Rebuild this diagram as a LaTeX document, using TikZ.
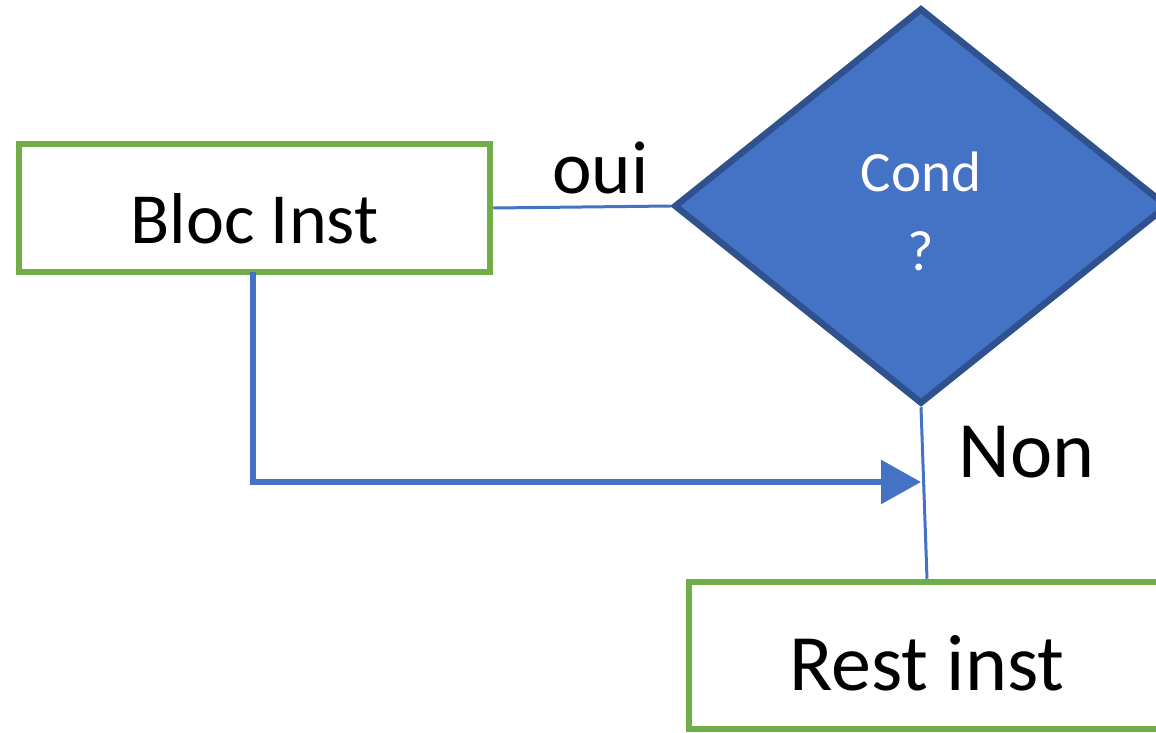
\documentclass[tikz,border=0pt]{standalone}
\usepackage{fontspec}
\setmainfont{Carlito}
\usetikzlibrary{shapes.geometric,arrows.meta}
\definecolor{boxgreen}{HTML}{70AD47}
\definecolor{condfill}{HTML}{4472C4}
\definecolor{conddraw}{HTML}{2F528F}
\definecolor{linkblue}{HTML}{4472C4}
\tikzset{
  instbox/.style={draw=boxgreen, line width=6.5pt, fill=white, rectangle, inner sep=0pt},
  condshape/.style={diamond, draw=conddraw, fill=condfill, line width=6.5pt, inner sep=0pt,
    minimum width=494pt, minimum height=396pt},
  thinlink/.style={draw=linkblue, line width=3pt},
  thicklink/.style={draw=linkblue, line width=6pt},
  lbl/.style={anchor=base, inner sep=0pt, text=black}
}
\begin{document}
\begin{tikzpicture}[x=1pt,y=-1pt]
\useasboundingbox (0,0) rectangle (1156,733);
\clip (0,0) rectangle (1156,733);
% nodes
\node[instbox, minimum width=471pt, minimum height=128pt, text height=70pt, text depth=0pt,
  font=\fontsize{72}{86}\selectfont] (bloc) at (254.5,208) {Bloc Inst};
\node[condshape] (cond) at (921,206) {};
\node[inner sep=0pt, align=center, text=white,
  font=\fontsize{57}{79}\selectfont] (condtxt) at (921,211) {Cond\\?};
\node[instbox, minimum width=476pt, minimum height=147pt, text height=69pt, text depth=0pt,
  font=\fontsize{80}{96}\selectfont] (rest) at (927,655.5) {Rest inst};
% labels
\node[lbl, font=\fontsize{75}{90}\selectfont] (oui) at (600.5,193) {oui};
\node[lbl, font=\fontsize{80}{96}\selectfont] (non) at (1026.5,477) {Non};
% connectors
\coordinate (join) at (921,482);
\draw[thinlink] (bloc.east) -- (cond.west);
\draw[thinlink] (cond.south) -- (rest.north);
\draw[thicklink, -{Triangle[length=40pt,width=43pt]}] (253,272) |- (join);
\end{tikzpicture}
\end{document}
